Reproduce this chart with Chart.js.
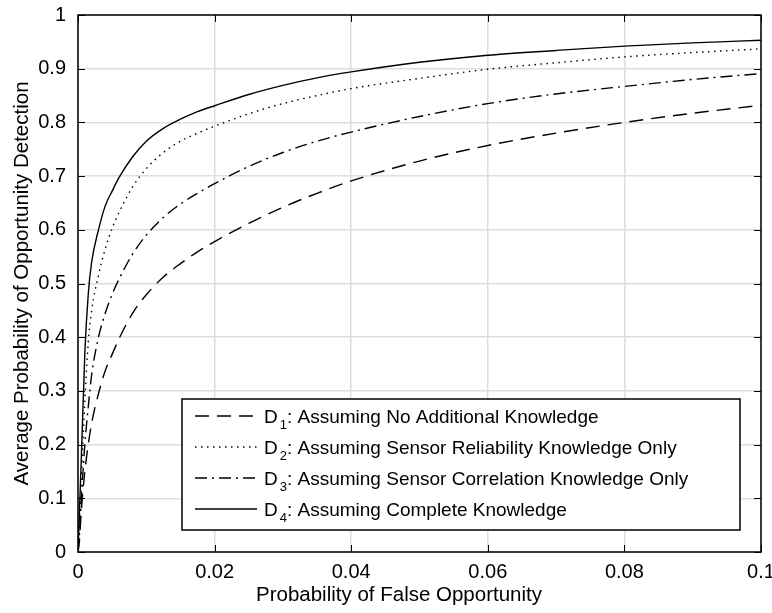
<!DOCTYPE html>
<html>
<head>
<meta charset="utf-8">
<title>ROC</title>
<script src="https://cdn.jsdelivr.net/npm/chart.js@4.4.1/dist/chart.umd.min.js"></script>
<style>
  body { margin: 0; background: #fff; }
</style>
</head>
<body>
<canvas id="graficoRoc" width="772" height="613"></canvas>
<script>
// probability of false opportunity (x)
const falseRate = [0, 0.0002, 0.0005, 0.001, 0.0015, 0.002, 0.003, 0.004, 0.005, 0.006, 0.008, 0.01,
  0.0125, 0.015, 0.0175, 0.02, 0.025, 0.03, 0.035, 0.04, 0.05, 0.06, 0.07, 0.08, 0.09, 0.1];

// average probability of opportunity detection, one array per detector
const pdNoKnowledge = [0, 0.02, 0.08, 0.15, 0.2, 0.24, 0.295, 0.338, 0.368, 0.397, 0.445, 0.479,
  0.512, 0.537, 0.559, 0.578, 0.612, 0.642, 0.668, 0.691, 0.728, 0.757, 0.78, 0.8, 0.817, 0.832];
const pdReliability = [0, 0.05, 0.14, 0.28, 0.39, 0.45, 0.515, 0.565, 0.603, 0.632, 0.68, 0.714,
  0.744, 0.765, 0.78, 0.793, 0.816, 0.835, 0.85, 0.863, 0.882, 0.899, 0.911, 0.922, 0.93, 0.937];
const pdCorrelation = [0, 0.03, 0.1, 0.2, 0.27, 0.33, 0.4, 0.445, 0.48, 0.508, 0.555, 0.59,
  0.623, 0.648, 0.668, 0.686, 0.718, 0.744, 0.765, 0.782, 0.811, 0.835, 0.853, 0.867, 0.88, 0.891];
const pdComplete = [0, 0.07, 0.18, 0.37, 0.48, 0.54, 0.6, 0.645, 0.672, 0.697, 0.736, 0.765,
  0.789, 0.806, 0.82, 0.831, 0.852, 0.869, 0.883, 0.894, 0.912, 0.925, 0.934, 0.942, 0.948, 0.953];

const xTicks = [0, 0.02, 0.04, 0.06, 0.08, 0.1];
const xTickLabels = ['0', '0.02', '0.04', '0.06', '0.08', '0.1'];
const yTicks = [0, 0.1, 0.2, 0.3, 0.4, 0.5, 0.6, 0.7, 0.8, 0.9, 1];
const yTickLabels = ['0', '0.1', '0.2', '0.3', '0.4', '0.5', '0.6', '0.7', '0.8', '0.9', '1'];

const detectorIds = ['1', '2', '3', '4'];
const detectorNames = [
  'Assuming No Additional Knowledge',
  'Assuming Sensor Reliability Knowledge Only',
  'Assuming Sensor Correlation Knowledge Only',
  'Assuming Complete Knowledge'
];

const FUENTE = '"Liberation Sans", Arial, Helvetica, sans-serif';
const TAM = 19;
const TAM_EJES = 20;
const TAM_TITULO = 20.5;

const puntos = (ys) => falseRate.map((x, i) => ({ x: x, y: ys[i] }));

const lineStyles = [[14, 8], [1.5, 4.5], [12, 5, 2, 5], []];
const series = [pdNoKnowledge, pdReliability, pdCorrelation, pdComplete];

const datasets = series.map((ys, i) => ({
  label: 'D' + detectorIds[i] + ': ' + detectorNames[i],
  data: puntos(ys),
  borderColor: '#000',
  borderWidth: 1.4,
  borderDash: lineStyles[i],
  pointRadius: 0,
  cubicInterpolationMode: 'monotone',
  fill: false
}));

// box, inward ticks, axis titles and legend drawn on top
const marco = {
  id: 'marco',
  afterDraw(chart) {
    const ctx = chart.ctx;
    const a = chart.chartArea;
    const sx = chart.scales.x, sy = chart.scales.y;
    ctx.save();
    ctx.strokeStyle = '#000';
    ctx.lineWidth = 1;
    const tl = 7;
    ctx.beginPath();
    xTicks.forEach(v => {
      const px = Math.round(sx.getPixelForValue(v)) + 0.5;
      ctx.moveTo(px, a.bottom); ctx.lineTo(px, a.bottom - tl);
      ctx.moveTo(px, a.top); ctx.lineTo(px, a.top + tl);
    });
    yTicks.forEach(v => {
      const py = Math.round(sy.getPixelForValue(v)) + 0.5;
      ctx.moveTo(a.left, py); ctx.lineTo(a.left + tl, py);
      ctx.moveTo(a.right, py); ctx.lineTo(a.right - tl, py);
    });
    ctx.stroke();
    ctx.lineWidth = 1.5;
    ctx.strokeRect(a.left, a.top, a.right - a.left, a.bottom - a.top);

    // axis titles
    ctx.fillStyle = '#000';
    ctx.font = TAM_TITULO + 'px ' + FUENTE;
    ctx.textAlign = 'center';
    ctx.textBaseline = 'alphabetic';
    ctx.fillText('Probability of False Opportunity', 399, 601);
    ctx.save();
    ctx.translate(28, (a.top + a.bottom) / 2);
    ctx.rotate(-Math.PI / 2);
    ctx.fillText('Average Probability of Opportunity Detection', 0, 0);
    ctx.restore();

    // legend
    const box = { x: 182, y: 399, w: 558, h: 131 };
    ctx.fillStyle = '#fff';
    ctx.fillRect(box.x, box.y, box.w, box.h);
    ctx.strokeRect(box.x, box.y, box.w, box.h);
    chart.data.datasets.forEach((ds, i) => {
      const y = box.y + 17 + i * 31;
      ctx.save();
      ctx.setLineDash(ds.borderDash);
      ctx.lineWidth = ds.borderWidth;
      ctx.beginPath();
      ctx.moveTo(box.x + 13, y);
      ctx.lineTo(box.x + 75, y);
      ctx.stroke();
      ctx.restore();
      ctx.fillStyle = '#000';
      ctx.textAlign = 'left';
      ctx.textBaseline = 'alphabetic';
      const base = y + 7;
      let x = box.x + 82;
      ctx.font = TAM + 'px ' + FUENTE;
      ctx.fillText('D', x, base);
      x += ctx.measureText('D').width + 2;
      ctx.font = '13px ' + FUENTE;
      ctx.fillText(detectorIds[i], x, base + 6);
      x += ctx.measureText(detectorIds[i]).width;
      ctx.font = TAM + 'px ' + FUENTE;
      ctx.fillText(': ' + detectorNames[i], x, base);
    });
    ctx.restore();
  }
};

new Chart(document.querySelector('#graficoRoc'), {
  type: 'line',
  data: { datasets: datasets },
  options: {
    responsive: false,
    devicePixelRatio: 1,
    animation: false,
    layout: { padding: { top: 15, right: 11, left: 0, bottom: 0 } },
    plugins: { legend: { display: false }, tooltip: { enabled: false } },
    scales: {
      x: {
        type: 'linear',
        min: 0,
        max: 0.1,
        afterBuildTicks: s => { s.ticks = xTicks.map(v => ({ value: v })); },
        afterFit: s => { s.height = 61; s.paddingLeft = 0; s.paddingRight = 0; },
        ticks: {
          callback: (v, i) => xTickLabels[i],
          color: '#000',
          font: { family: FUENTE, size: TAM_EJES },
          padding: 8,
          maxRotation: 0,
          autoSkip: false
        },
        grid: { color: '#dedede', lineWidth: 1.5, drawTicks: false },
        border: { display: false }
      },
      y: {
        type: 'linear',
        min: 0,
        max: 1,
        afterBuildTicks: s => { s.ticks = yTicks.map(v => ({ value: v })); },
        afterFit: s => { s.width = 78; s.paddingTop = 0; s.paddingBottom = 0; },
        ticks: {
          callback: (v, i) => yTickLabels[i],
          color: '#000',
          font: { family: FUENTE, size: TAM_EJES },
          padding: 12
        },
        grid: { color: '#dedede', lineWidth: 1.5, drawTicks: false },
        border: { display: false }
      }
    }
  },
  plugins: [marco]
});
</script>
</body>
</html>
